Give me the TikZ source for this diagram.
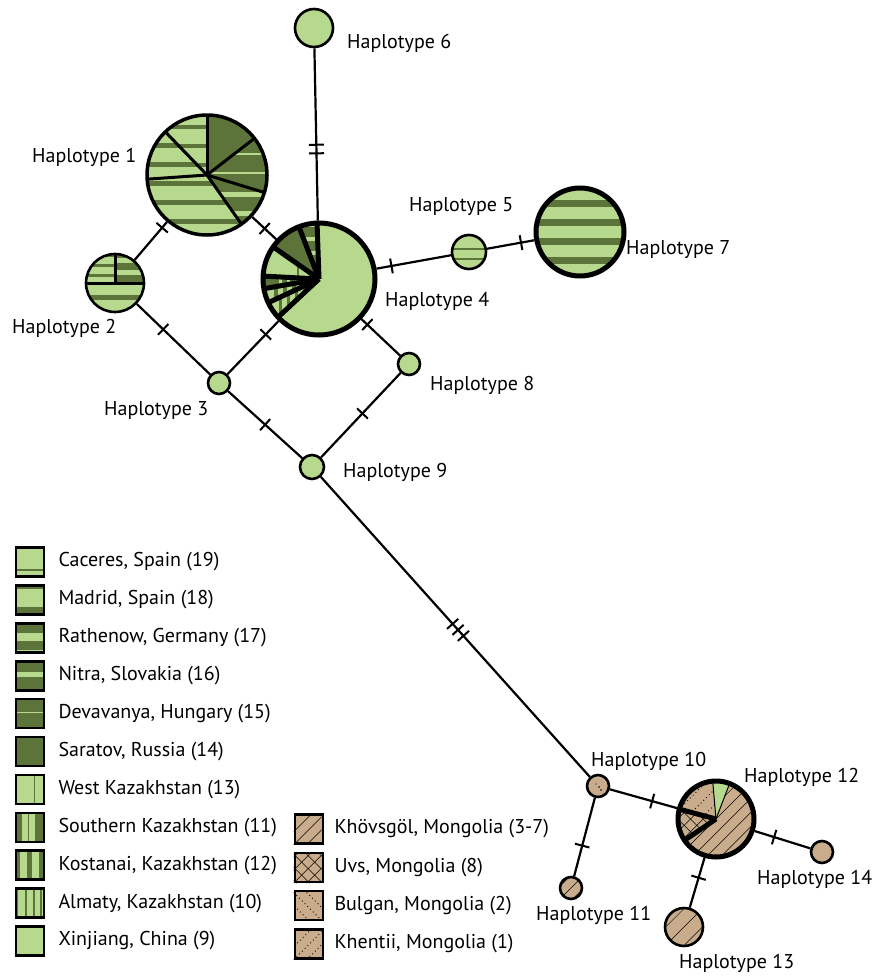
\documentclass[tikz,border=0pt]{standalone}
\usepackage{fontspec}
\setmainfont{PT Sans}
\usetikzlibrary{positioning,backgrounds}

\definecolor{lgreen}{RGB}{183,217,141}
\definecolor{dgreen}{RGB}{92,116,57}
\definecolor{mtan}{RGB}{200,172,139}

\tikzset{
  hap/.style={circle,draw,line width=2.6pt,inner sep=0pt,minimum size=#1},
  link/.style={line width=2.2pt},
  mutation/.style={draw,sloped,line width=2pt,inner sep=0pt,minimum width=0pt,minimum height=15pt},
  spoke/.style={line width=3pt},
  hlabel/.style={anchor=west,inner sep=0pt,font=\fontsize{20}{24}\selectfont},
  legbox/.style={draw,line width=2.6pt,minimum width=28pt,minimum height=29pt,inner sep=0pt},
  legtext/.style={inner sep=0pt,font=\fontsize{20}{24}\selectfont},
  thinline/.style={line width=0.5pt},
  dotline/.style={line width=0.9pt,dash pattern=on 0.9pt off 3pt}
}

% fill one wedge of a haplotype pie
\newcommand{\slicefill}[5]{%
  \begin{scope}
    \clip (#1.center) -- ++(#3:#2) arc[start angle=#3,end angle=#4,radius=#2] -- cycle;
    \begin{scope}[shift={(#1.center)}]#5\end{scope}
  \end{scope}}
% base, band colour, period, band width, offset
\newcommand{\hbands}[5]{%
  \fill[#1] (-70,-70) rectangle (70,70);
  \foreach \k in {-5,...,4} \fill[#2] (-70,{#5+\k*#3}) rectangle (70,{#5+\k*#3+#4});}
\newcommand{\vbands}[5]{%
  \fill[#1] (-70,-70) rectangle (70,70);
  \foreach \k in {-5,...,4} \fill[#2] ({#5+\k*#3},-70) rectangle ({#5+\k*#3+#4},70);}
\newcommand{\solid}[1]{\fill[#1] (-70,-70) rectangle (70,70);}
\newcommand{\hatch}[2]{%
  \foreach \k in {-8,...,8} \draw[thinline,rotate=#1] (-70,\k*#2) -- (70,\k*#2);}
\newcommand{\dotlines}[2]{%
  \foreach \k in {-8,...,8} \draw[dotline,rotate=#1] (-70,\k*#2) -- (70,\k*#2);}

% legend swatches
\newcommand{\legA}{\fill[lgreen] (0,0) rectangle (28,29); \fill[dgreen] (0,7) rectangle (28,8.5);}
\newcommand{\legB}{\fill[lgreen] (0,0) rectangle (28,29); \fill[dgreen] (0,3) rectangle (28,9); \fill[dgreen] (0,27) rectangle (28,29);}
\newcommand{\legC}{\fill[dgreen] (0,0) rectangle (28,29); \fill[lgreen] (0,13) rectangle (28,21); \fill[lgreen] (0,1.5) rectangle (28,3.5);}
\newcommand{\legD}{\fill[dgreen] (0,0) rectangle (28,29); \fill[lgreen] (0,15) rectangle (28,20);}
\newcommand{\legE}{\fill[dgreen] (0,0) rectangle (28,29); \fill[lgreen] (0,16) rectangle (28,17.5);}
\newcommand{\legF}{\fill[dgreen] (0,0) rectangle (28,29);}
\newcommand{\legG}{\fill[lgreen] (0,0) rectangle (28,29); \fill[dgreen] (19,0) rectangle (20.5,29);}
\newcommand{\legH}{\fill[lgreen] (0,0) rectangle (28,29); \fill[dgreen] (0,0) rectangle (7,29); \fill[dgreen] (13,0) rectangle (14,29); \fill[dgreen] (20,0) rectangle (28,29);}
\newcommand{\legI}{\fill[dgreen] (0,0) rectangle (28,29); \fill[lgreen] (5,0) rectangle (12,29); \fill[lgreen] (17,0) rectangle (24,29);}
\newcommand{\legJ}{\fill[lgreen] (0,0) rectangle (28,29); \foreach \a in {1,10,18,25} \fill[dgreen] (\a,0) rectangle ++(2.5,29);}
\newcommand{\legK}{\fill[lgreen] (0,0) rectangle (28,29);}
\newcommand{\legL}{\begin{scope}\fill[mtan] (0,0) rectangle (28,29); \clip (0,0) rectangle (28,29);
  \foreach \a in {-13,0,13} \draw[thinline] (\a,0) -- ++(29,29);\end{scope}}
\newcommand{\legM}{\begin{scope}\fill[mtan] (0,0) rectangle (28,29); \clip (0,0) rectangle (28,29);
  \foreach \a in {-26,-13,0,13,26} {\draw[thinline] (\a,0) -- ++(29,29); \draw[thinline] (\a,29) -- ++(29,-29);}\end{scope}}
\newcommand{\legN}{\begin{scope}\fill[mtan] (0,0) rectangle (28,29); \clip (0,0) rectangle (28,29);
  \foreach \a in {-13,0,13} \draw[dotline] (\a,29) -- ++(29,-29);\end{scope}}
\newcommand{\legO}{\begin{scope}\fill[mtan] (0,0) rectangle (28,29); \clip (0,0) rectangle (28,29);
  \foreach \a in {-13,0,13} \draw[dotline] (\a,0) -- ++(29,29);\end{scope}}

\begin{document}
\begin{tikzpicture}[x=1pt,y=1pt]
\useasboundingbox (0,0) rectangle (877,-977);

% haplotypes
\node[hap=120pt,line width=3.5pt] (H1) at (207,-175) {};
\node[hap=58pt] (H2) at (115,-283) {};
\node[hap=22pt,fill=lgreen] (H3) at (219,-383) {};
\node[hap=112pt,line width=5pt] (H4) at (319,-279) {};
\node[hap=34pt] (H5) at (469,-252) {};
\node[hap=38pt,fill=lgreen] (H6) at (314,-28) {};
\node[hap=88pt,line width=5pt] (H7) at (580,-232) {};
\node[hap=22pt,fill=lgreen] (H8) at (409,-364) {};
\node[hap=24pt,fill=lgreen] (H9) at (312,-467) {};
\node[hap=22pt] (H10) at (598,-786) {};
\node[hap=22pt] (H11) at (571,-888) {};
\node[hap=76pt,line width=5pt] (H12) at (716,-819) {};
\node[hap=38pt] (H13) at (684,-927) {};
\node[hap=22pt,fill=mtan] (H14) at (822,-852) {};

\begin{scope}[on background layer]
  % Haplotype 1
  \slicefill{H1}{60}{90}{134}{\hbands{lgreen}{dgreen}{19}{4}{8.5}}
  \slicefill{H1}{60}{134}{184}{\hbands{lgreen}{dgreen}{19}{5}{8.5}}
  \slicefill{H1}{60}{184}{305}{\hbands{lgreen}{dgreen}{19}{5}{8.5}}
  \slicefill{H1}{60}{305}{343}{\hbands{dgreen}{lgreen}{19}{5}{-3}}
  \slicefill{H1}{60}{343}{397.7}{\hbands{dgreen}{lgreen}{19}{2}{1.5}}
  \slicefill{H1}{60}{37.7}{90}{\solid{dgreen}}
  \foreach \a in {90,134,184,305,343,37.7} \draw[spoke] (H1.center) -- ++(\a:60);
  % Haplotype 2
  \slicefill{H2}{29}{0}{90}{\hbands{dgreen}{lgreen}{12}{5}{8}}
  \slicefill{H2}{29}{90}{180}{\hbands{lgreen}{dgreen}{10}{3}{6}}
  \slicefill{H2}{29}{180}{360}{\hbands{lgreen}{dgreen}{40}{5}{-17}}
  \foreach \a in {0,90,180} \draw[spoke] (H2.center) -- ++(\a:29);
  % Haplotype 4
  \slicefill{H4}{56}{92}{111}{\hbands{dgreen}{lgreen}{14}{4}{38}}
  \slicefill{H4}{56}{111}{145}{\solid{dgreen}}
  \slicefill{H4}{56}{145}{177}{\vbands{lgreen}{dgreen}{200}{2}{-22}}
  \slicefill{H4}{56}{177}{190}{\vbands{dgreen}{lgreen}{8}{3}{0}}
  \slicefill{H4}{56}{190}{205}{\vbands{lgreen}{dgreen}{9}{4}{0}}
  \slicefill{H4}{56}{205}{223}{\vbands{lgreen}{dgreen}{8}{2.5}{0}}
  \slicefill{H4}{56}{223}{452}{\solid{lgreen}}
  \foreach \a in {92,111,145,177,190,205,223} \draw[spoke,line width=5pt] (H4.center) -- ++(\a:56);
  % Haplotypes 5 and 7
  \slicefill{H5}{17}{0}{360}{\solid{lgreen}
    \fill[dgreen] (-20,2.5) rectangle (20,4); \fill[dgreen] (-20,-7.5) rectangle (20,-6);}
  \slicefill{H7}{44}{0}{360}{\hbands{lgreen}{dgreen}{19}{7}{6.5}}
  % Mongolian haplotypes
  \slicefill{H10}{11}{0}{360}{\solid{mtan}
    \fill (1,-1) circle (0.8); \fill (3,-4) circle (0.8); \fill (-2,2) circle (0.6);}
  \slicefill{H11}{11}{0}{360}{\solid{mtan}\hatch{45}{9}}
  \slicefill{H12}{38}{69}{95}{\solid{lgreen}}
  \slicefill{H12}{38}{95}{165}{\solid{mtan}\dotlines{45}{11}}
  \slicefill{H12}{38}{165}{214}{\solid{mtan}\hatch{45}{9}\hatch{-45}{9}}
  \slicefill{H12}{38}{214}{429}{\solid{mtan}\hatch{45}{10}}
  \foreach \a in {69,95} \draw[line width=1pt] (H12.center) -- ++(\a:38);
  \foreach \a in {165,214} \draw[spoke,line width=5pt] (H12.center) -- ++(\a:38);
  \slicefill{H13}{19}{0}{360}{\solid{mtan}\hatch{45}{13}}
\end{scope}

% connections with mutation steps
\draw[link] (H6) -- (H4) node[mutation,pos=0.56]{} node[mutation,pos=0.61]{};
\draw[link] (H1) -- (H2) node[mutation,pos=0.15]{};
\draw[link] (H1) -- (H4) node[mutation,pos=0.52]{};
\draw[link] (H2) -- (H3) node[mutation,pos=0.36]{};
\draw[link] (H3) -- (H4) node[mutation,pos=0.75]{};
\draw[link] (H3) -- (H9) node[mutation,pos=0.5]{};
\draw[link] (H4) -- (H8) node[mutation,pos=0.15]{};
\draw[link] (H8) -- (H9) node[mutation,pos=0.48]{};
\draw[link] (H4) -- (H5) node[mutation,pos=0.2]{};
\draw[link] (H5) -- (H7) node[mutation,pos=0.72]{};
\draw[link] (H9) -- (H10) node[mutation,pos=0.49]{} node[mutation,pos=0.51]{} node[mutation,pos=0.53]{};
\draw[link] (H10) -- (H12) node[mutation,pos=0.63]{};
\draw[link] (H10) -- (H11) node[mutation,pos=0.61]{};
\draw[link] (H12) -- (H13) node[mutation,pos=0.4]{};
\draw[link] (H12) -- (H14) node[mutation,pos=0.35]{};

% labels
\node[hlabel] (L1) at (32,-157) {Haplotype 1};
\node[hlabel] (L2) at (12,-328) {Haplotype 2};
\node[hlabel] (L3) at (104,-411) {Haplotype 3};
\node[hlabel] (L4) at (385,-301) {Haplotype 4};
\node[hlabel] (L5) at (409,-207) {Haplotype 5};
\node[hlabel] (L6) at (347,-43) {Haplotype 6};
\node[hlabel] (L7) at (626,-250) {Haplotype 7};
\node[hlabel] (L8) at (430,-385) {Haplotype 8};
\node[hlabel] (L9) at (343,-472) {Haplotype 9};
\node[hlabel] (L10) at (591,-761) {Haplotype 10};
\node[hlabel] (L11) at (536,-915) {Haplotype 11};
\node[hlabel] (L12) at (744,-777) {Haplotype 12};
\node[hlabel] (L13) at (679,-963) {Haplotype 13};
\node[hlabel] (L14) at (757,-879) {Haplotype 14};

% legend
\foreach \txt/\pat [count=\n] in {{Caceres, Spain (19)}/\legA,{Madrid, Spain (18)}/\legB,
    {Rathenow, Germany (17)}/\legC,{Nitra, Slovakia (16)}/\legD,{Devavanya, Hungary (15)}/\legE,
    {Saratov, Russia (14)}/\legF,{West Kazakhstan (13)}/\legG,{Southern Kazakhstan (11)}/\legH,
    {Kostanai, Kazakhstan (12)}/\legI,{Almaty, Kazakhstan (10)}/\legJ,{Xinjiang, China (9)}/\legK}
{
  \node[legbox] (K\n) at (30,{-562-37.9*(\n-1)}) {};
  \node[legtext,right=13pt of K\n] (T\n) {\txt};
  \begin{scope}[on background layer,shift={(K\n.south west)}]\pat\end{scope}
}
\foreach \txt/\pat [count=\n] in {{Khövsgöl, Mongolia (3-7)}/\legL,{Uvs, Mongolia (8)}/\legM,
    {Bulgan, Mongolia (2)}/\legN,{Khentii, Mongolia (1)}/\legO}
{
  \node[legbox] (M\n) at (309,{-829-38.3*(\n-1)}) {};
  \node[legtext,right=10pt of M\n] (U\n) {\txt};
  \begin{scope}[on background layer,shift={(M\n.south west)}]\pat\end{scope}
}
\end{tikzpicture}
\end{document}
